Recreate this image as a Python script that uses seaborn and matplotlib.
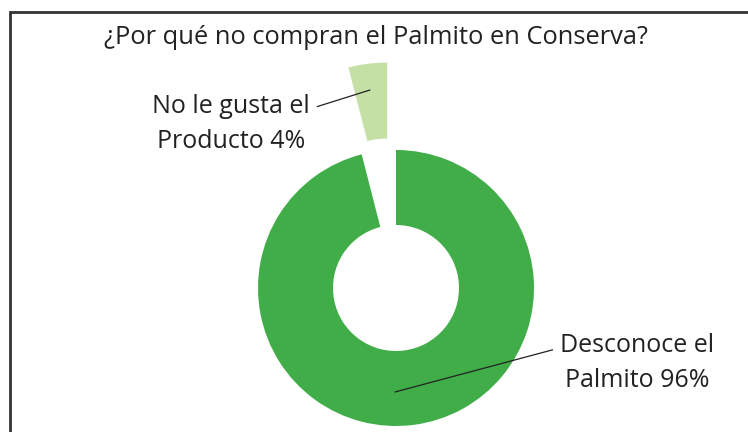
import seaborn as sns
import matplotlib.pyplot as plt
from matplotlib.patches import Rectangle

# data
categories = ["Desconoce el\nPalmito", "No le gusta el\nProducto"]
values = [96, 4]
colors = ["#41AD49", "#C5E0A5"]

sns.set_style("white")
plt.rcParams['font.family'] = ['Open Sans', 'DejaVu Sans']

fig = plt.figure(figsize=(7.48, 4.32), dpi=100)
ax = fig.add_axes([0, 0, 1, 1])

# donut, small slice pulled out (and drawn a bit larger, as in the original)
center = (396, 144)
radius = 138
wedges, _ = ax.pie(values, colors=colors, startangle=90, counterclock=False,
                   explode=[0, 70], radius=radius, center=center,
                   wedgeprops=dict(width=75, linewidth=0))
wedges[1].set_radius(156)
wedges[1].set_width(76)
ax.set_xlim(0, 748)
ax.set_ylim(0, 432)
ax.set_aspect('equal')
ax.axis('off')

# labels with leader lines
ax.annotate(f"{categories[1]} {values[1]}%", xy=(370, 342), xytext=(231, 308),
            ha='center', va='center', fontsize=18, color='#222222', linespacing=1.55,
            arrowprops=dict(arrowstyle='-', color='#222222', lw=0.9,
                            relpos=(1.0, 0.75), shrinkA=3, shrinkB=0))
ax.annotate(f"{categories[0]} {values[0]}%", xy=(395, 40), xytext=(637, 69),
            ha='center', va='center', fontsize=18, color='#222222', linespacing=1.55,
            arrowprops=dict(arrowstyle='-', color='#222222', lw=0.9,
                            relpos=(0.0, 0.75), shrinkA=3, shrinkB=0))

fig.text(376 / 748, 1 - 37 / 432, "¿Por qué no compran el Palmito en Conserva?",
         ha='center', va='center', fontsize=18.4, color='#222222')

# frame
fig.add_artist(Rectangle((10, -10), 760, 432 - 12 + 10, transform=None,
                         fill=False, edgecolor='#333333', linewidth=2))

fig.savefig("out.png", dpi=100)
